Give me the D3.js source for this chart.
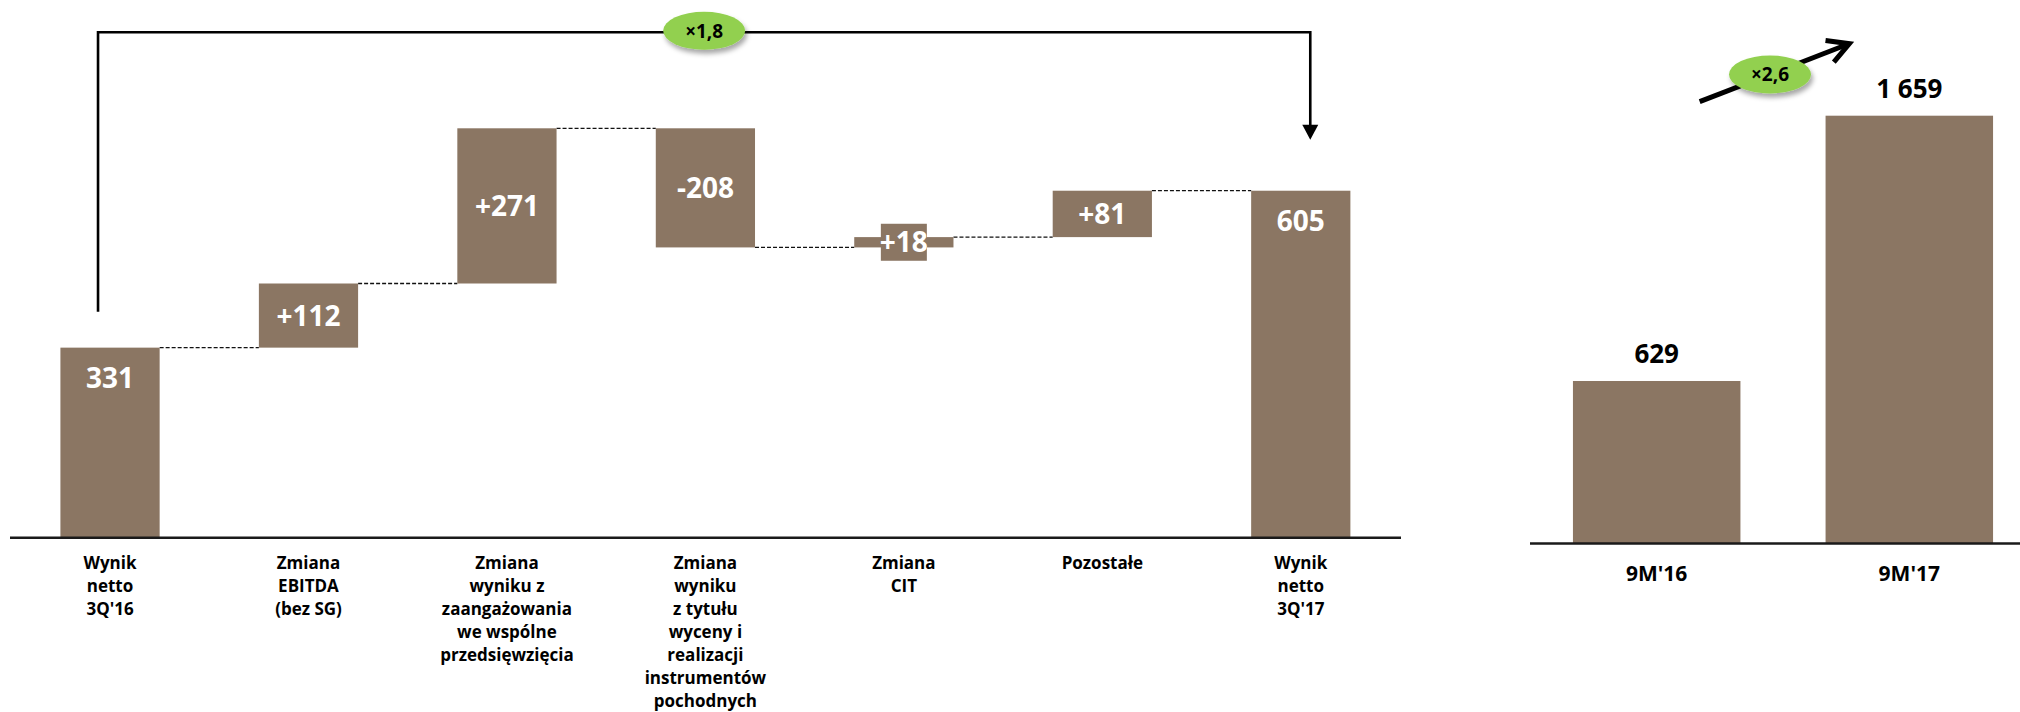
<!DOCTYPE html>
<html lang="pl">
<head>
<meta charset="utf-8">
<script src="https://cdn.jsdelivr.net/npm/d3@7"></script>
<style>
  html, body { margin: 0; padding: 0; background: #fff; }
  svg { display: block; font-family: "Open Sans", "DejaVu Sans", sans-serif; }
  .cat { font-weight: 700; font-size: 17px; fill: #000; }
  .val { font-weight: 700; font-size: 28px; fill: #fff; }
  .top { font-weight: 700; font-size: 26px; fill: #000; }
  .mult { font-weight: 700; font-size: 19px; fill: #000; }
</style>
</head>
<body>
<svg id="chart" width="2020" height="712"></svg>
<script>
// Bridge: net result 3Q'16 -> 3Q'17 (mln zł)
const bridgeCategories = [
  ["Wynik", "netto", "3Q'16"],
  ["Zmiana", "EBITDA", "(bez SG)"],
  ["Zmiana", "wyniku z", "zaangażowania", "we wspólne", "przedsięwzięcia"],
  ["Zmiana", "wyniku", "z tytułu", "wyceny i", "realizacji", "instrumentów", "pochodnych"],
  ["Zmiana", "CIT"],
  ["Pozostałe"],
  ["Wynik", "netto", "3Q'17"]
];
const bridgeValues = [331, 112, 271, -208, 18, 81, 605];
const bridgeKinds = ["total", "delta", "delta", "delta", "delta", "delta", "total"];
const bridgeLabels = ["331", "+112", "+271", "-208", "+18", "+81", "605"];
const bridgeMultiplier = "×1,8";

// Year-to-date comparison
const periods = ["9M'16", "9M'17"];
const periodValues = [629, 1659];
const periodLabels = ["629", "1 659"];
const periodMultiplier = "×2,6";

const BAR = "#8b7663";
const GREEN = "#92d050";

const svg = d3.select("#chart");

const defs = svg.append("defs");
const shadow = defs.append("filter").attr("id", "shadow")
  .attr("x", "-30%").attr("y", "-30%").attr("width", "160%").attr("height", "180%");
shadow.append("feDropShadow").attr("dx", 2).attr("dy", 4).attr("stdDeviation", 2.5)
  .attr("flood-color", "#000").attr("flood-opacity", 0.35);

// ---------- waterfall ----------
const x = d3.scaleBand()
  .domain(d3.range(bridgeValues.length))
  .range([10.8, 1400])
  .paddingInner(0.5)
  .paddingOuter(0.25);

const y = d3.scaleLinear().domain([0, 714]).range([537.2, 128.3]);

// running start / end of each step
let run = 0;
const steps = bridgeValues.map((v, i) => {
  let start, end;
  if (bridgeKinds[i] === "total") { start = 0; end = v; run = v; }
  else { start = run; end = run + v; run = end; }
  return { i, v, start, end, kind: bridgeKinds[i], label: bridgeLabels[i] };
});

const gW = svg.append("g");

// dashed connectors between consecutive steps
steps.slice(0, -1).forEach((s, k) => {
  const next = steps[k + 1];
  gW.append("line")
    .attr("x1", x(s.i) + x.bandwidth())
    .attr("x2", x(next.i))
    .attr("y1", y(s.end)).attr("y2", y(s.end))
    .attr("stroke", "#111").attr("stroke-width", 1.3)
    .attr("stroke-dasharray", "4,2");
});

gW.selectAll("rect.bar").data(steps).join("rect")
  .attr("class", "bar")
  .attr("x", d => x(d.i))
  .attr("width", x.bandwidth())
  .attr("y", d => y(Math.max(d.start, d.end)))
  .attr("height", d => Math.abs(y(d.start) - y(d.end)))
  .attr("fill", BAR);

// value labels: totals near the top, changes centred in the bar
steps.forEach(d => {
  const cx = x(d.i) + x.bandwidth() / 2;
  const top = y(Math.max(d.start, d.end));
  const bottom = y(Math.min(d.start, d.end));
  const cy = d.kind === "total" ? top + 30 : (top + bottom) / 2;
  // short steps get a bar-coloured plate so the label stays legible
  if (bottom - top < 30) {
    gW.append("rect")
      .attr("x", cx - 23).attr("width", 46)
      .attr("y", cy - 18.5).attr("height", 37)
      .attr("fill", BAR);
  }
  gW.append("text").attr("class", "val")
    .attr("x", cx).attr("y", cy)
    .attr("text-anchor", "middle").attr("dy", "0.36em")
    .text(d.label);
});

// baseline
gW.append("line")
  .attr("x1", 10).attr("x2", 1401)
  .attr("y1", y(0) + 0.5).attr("y2", y(0) + 0.5)
  .attr("stroke", "#1a1a1a").attr("stroke-width", 2.5);

// category labels
steps.forEach(d => {
  const t = gW.append("text").attr("class", "cat")
    .attr("text-anchor", "middle")
    .attr("x", x(d.i) + x.bandwidth() / 2)
    .attr("y", 569);
  bridgeCategories[d.i].forEach((line, j) => {
    t.append("tspan")
      .attr("x", x(d.i) + x.bandwidth() / 2)
      .attr("dy", j === 0 ? 0 : 23)
      .text(line);
  });
});

// bracket from first total to last total
const first = steps[0], last = steps[steps.length - 1];
const bxL = x(first.i) + x.bandwidth() / 2 - 12;
const bxR = x(last.i) + x.bandwidth() / 2 + 9.5;
const byTop = 32.3;
const byL = y(first.end) - 36;
const tipY = y(last.end) - 51;
gW.append("path")
  .attr("d", `M${bxL},${byL} V${byTop} H${bxR} V${tipY - 14}`)
  .attr("fill", "none").attr("stroke", "#000").attr("stroke-width", 2.6);
gW.append("path")
  .attr("d", `M${bxR - 8},${tipY - 15} L${bxR + 8},${tipY - 15} L${bxR},${tipY} Z`)
  .attr("fill", "#000");

const mx = (bxL + bxR) / 2;
gW.append("ellipse")
  .attr("cx", mx).attr("cy", byTop - 1.5).attr("rx", 41).attr("ry", 19)
  .attr("fill", GREEN).attr("filter", "url(#shadow)");
gW.append("text").attr("class", "mult")
  .attr("x", mx).attr("y", byTop - 1.5)
  .attr("text-anchor", "middle").attr("dy", "0.36em")
  .text(bridgeMultiplier);

// ---------- 9M comparison ----------
const x2 = d3.scaleBand()
  .domain(periods)
  .range([1530, 2036])
  .paddingInner(0.337)
  .paddingOuter(0.17);
const y2 = d3.scaleLinear().domain([0, 1659]).range([543, 115.7]);

const gR = svg.append("g");
gR.selectAll("rect").data(periods).join("rect")
  .attr("x", d => x2(d))
  .attr("width", x2.bandwidth())
  .attr("y", (d, i) => y2(periodValues[i]))
  .attr("height", (d, i) => y2(0) - y2(periodValues[i]))
  .attr("fill", BAR);

gR.selectAll("text.top").data(periods).join("text")
  .attr("class", "top")
  .attr("x", d => x2(d) + x2.bandwidth() / 2)
  .attr("y", (d, i) => y2(periodValues[i]) - 18)
  .attr("text-anchor", "middle")
  .text((d, i) => periodLabels[i]);

gR.append("line")
  .attr("x1", 1530).attr("x2", 2020)
  .attr("y1", y2(0) + 0.5).attr("y2", y2(0) + 0.5)
  .attr("stroke", "#1a1a1a").attr("stroke-width", 2.5);

gR.selectAll("text.cat").data(periods).join("text")
  .attr("class", "cat")
  .style("font-size", "21px")
  .attr("x", d => x2(d) + x2.bandwidth() / 2)
  .attr("y", 581)
  .attr("text-anchor", "middle")
  .text(d => d);

// growth arrow
const c1 = x2(periods[0]) + x2.bandwidth() / 2;
const c2 = x2(periods[1]) + x2.bandwidth() / 2;
const yTop = y2(periodValues[1]);
const a0 = [c1 + 43, yTop - 14];
const a1 = [c2 - 60, yTop - 72];
const ang = Math.atan2(a1[1] - a0[1], a1[0] - a0[0]);
const headLen = 24, spread = 0.5;
const h1 = [a1[0] - headLen * Math.cos(ang - spread), a1[1] - headLen * Math.sin(ang - spread)];
const h2 = [a1[0] - headLen * Math.cos(ang + spread), a1[1] - headLen * Math.sin(ang + spread)];
gR.append("line")
  .attr("x1", a0[0]).attr("y1", a0[1]).attr("x2", a1[0] - 3 * Math.cos(ang)).attr("y2", a1[1] - 3 * Math.sin(ang))
  .attr("stroke", "#000").attr("stroke-width", 5);
gR.append("path")
  .attr("d", `M${h1[0]},${h1[1]} L${a1[0]},${a1[1]} L${h2[0]},${h2[1]}`)
  .attr("fill", "none").attr("stroke", "#000").attr("stroke-width", 5)
  .attr("stroke-linejoin", "miter");

const ox = a0[0] + (a1[0] - a0[0]) * 0.47;
const oy = a0[1] + (a1[1] - a0[1]) * 0.47;
gR.append("ellipse")
  .attr("cx", ox).attr("cy", oy).attr("rx", 41).attr("ry", 19)
  .attr("fill", GREEN).attr("filter", "url(#shadow)");
gR.append("text").attr("class", "mult")
  .attr("x", ox).attr("y", oy)
  .attr("text-anchor", "middle").attr("dy", "0.36em")
  .text(periodMultiplier);
</script>
</body>
</html>
